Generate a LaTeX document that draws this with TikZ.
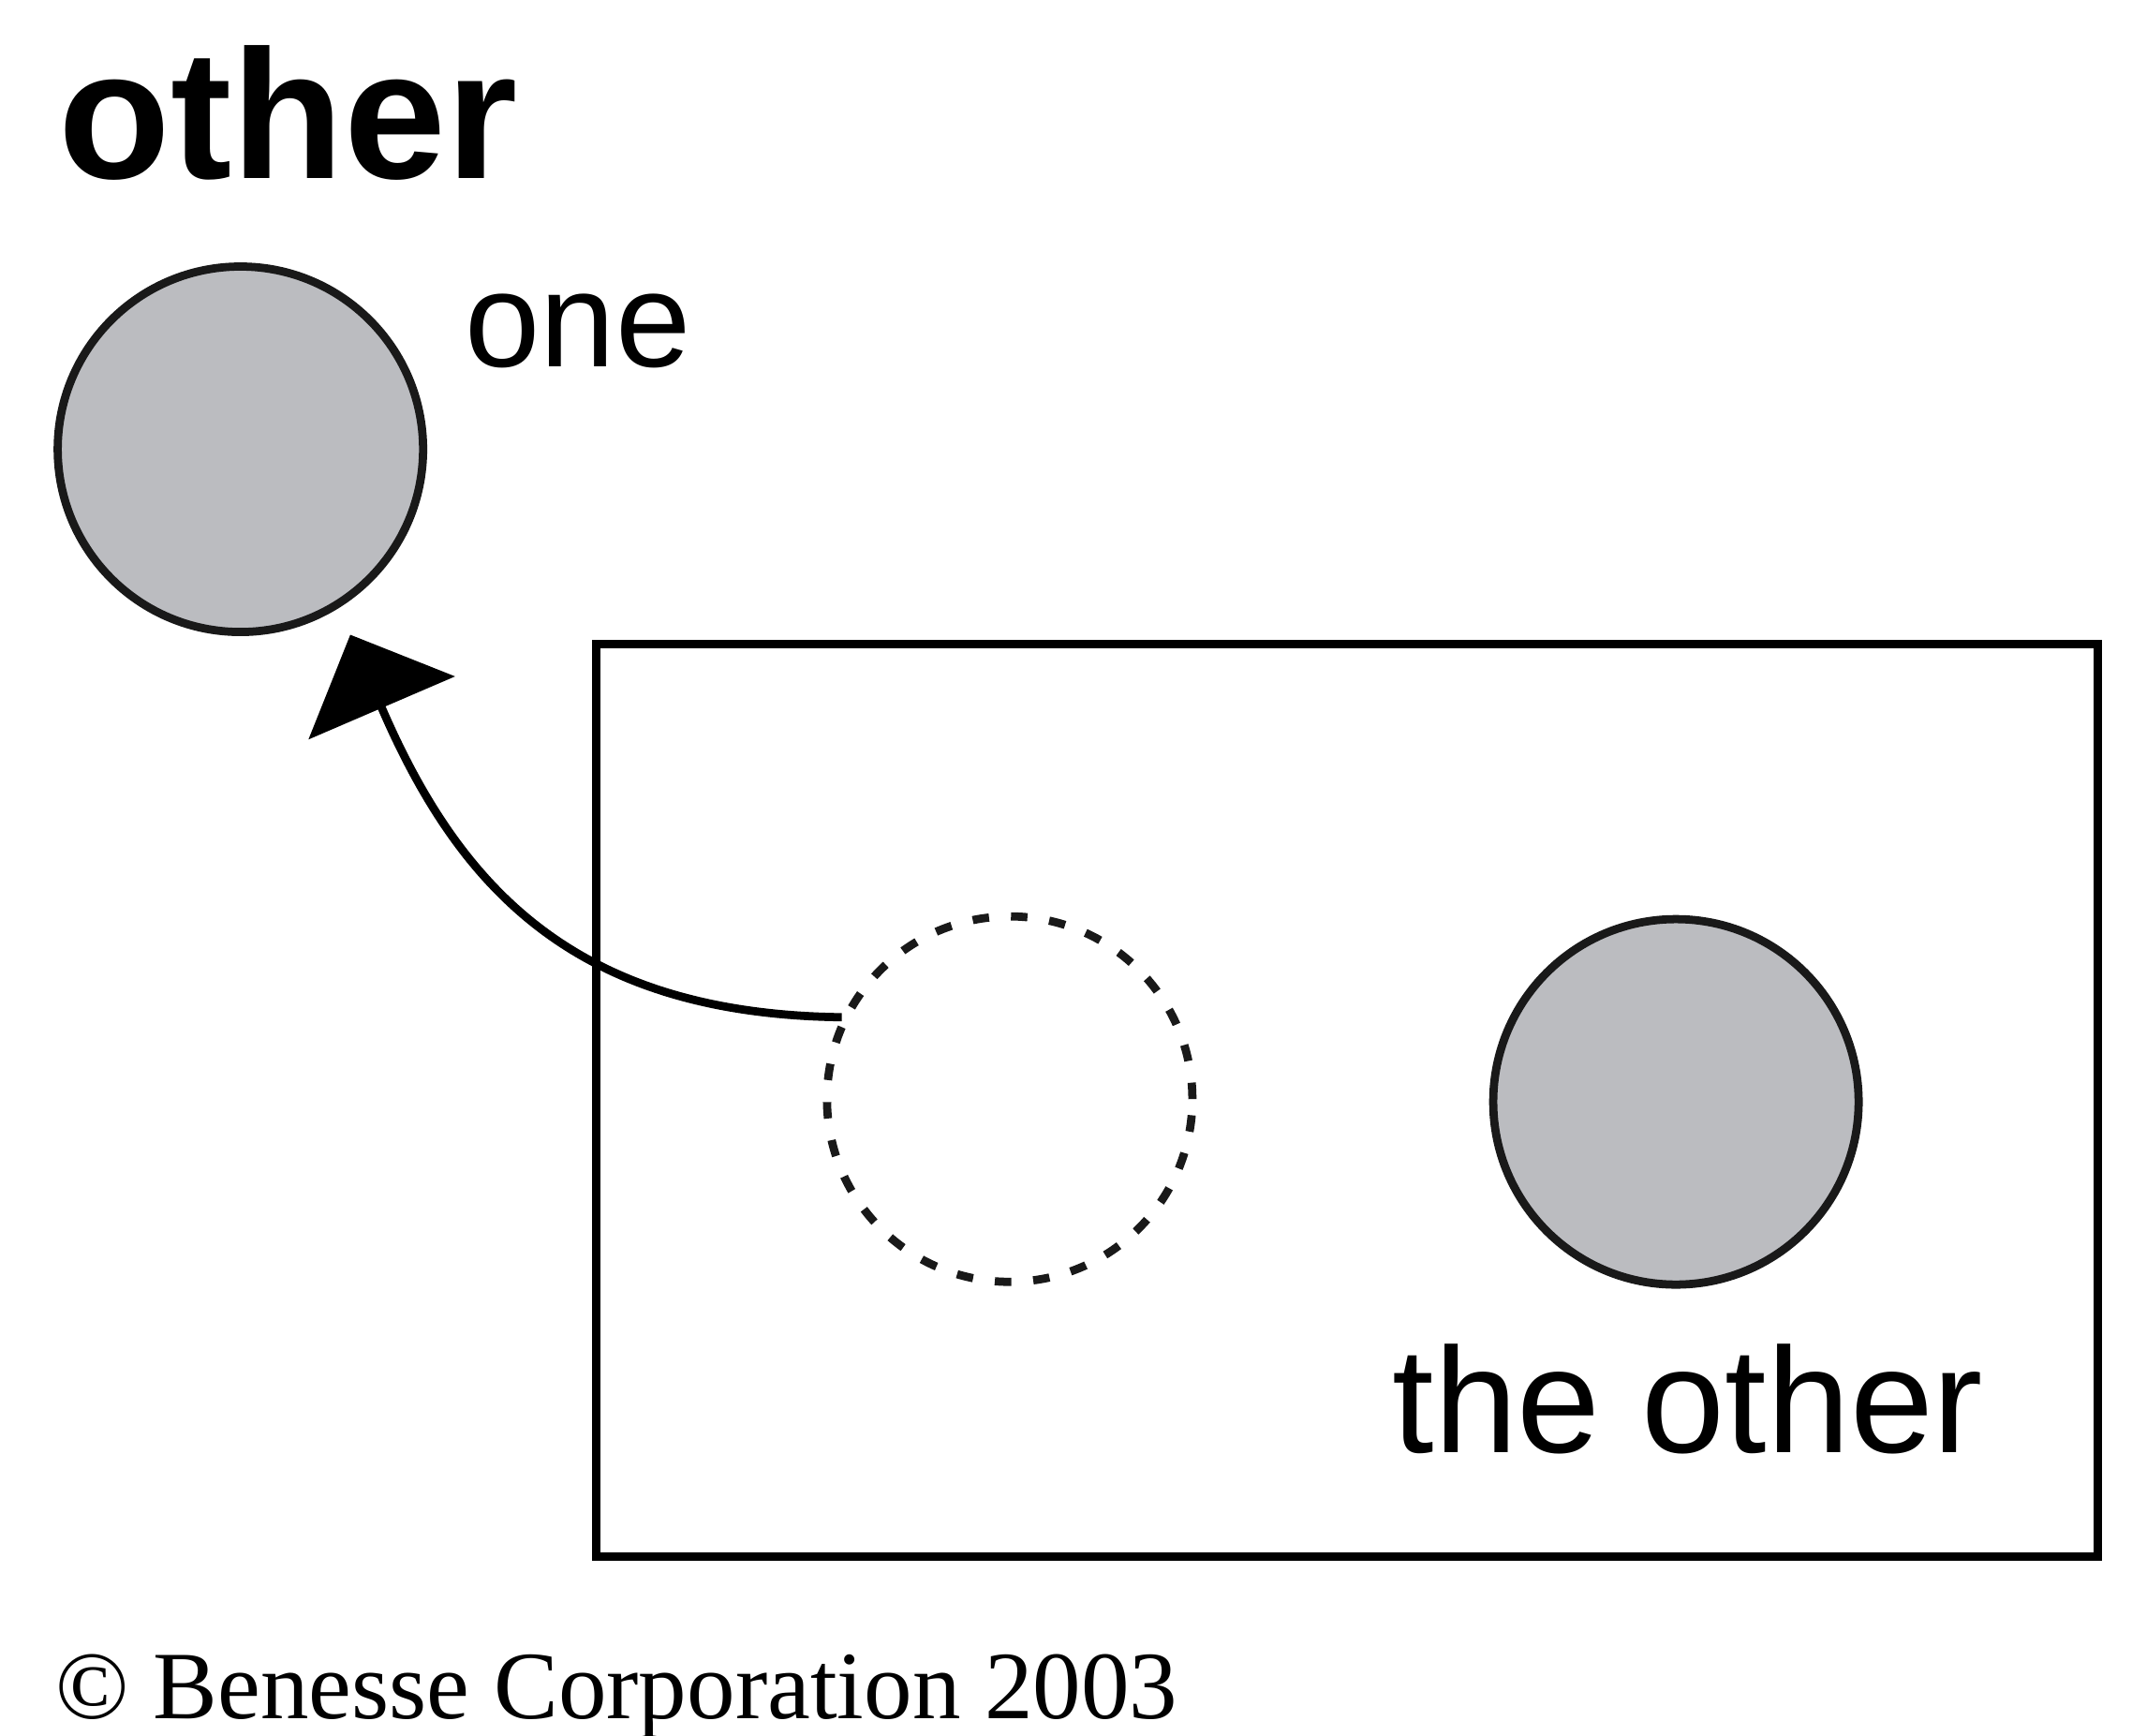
\documentclass[tikz,border=0pt]{standalone}
\usepackage{fontspec}
\setmainfont{Liberation Serif}
\newfontfamily\labelfont{Liberation Sans}
\usetikzlibrary{arrows.meta}
\definecolor{ballgray}{HTML}{BBBCC0}
\tikzset{
  ball/.style={circle, draw=black!90, line width=1.7pt, minimum size=2.66cm, inner sep=0pt},
  word/.style={anchor=base west, inner sep=0pt, font=\labelfont\fontsize{28}{28}\selectfont}
}
\begin{document}
\begin{tikzpicture}
\useasboundingbox (0,0) rectangle (15.52,12.63);
\node[anchor=base west, inner sep=0pt, font=\labelfont\bfseries\fontsize{38}{38}\selectfont] (title) at (0.42,11.33) {other};

\node[ball, fill=ballgray] (one) at (1.75,9.36) {};
\node[word] (onelbl) at (3.38,9.96) {one};

\draw[line width=1.7pt] (4.34,1.30) rectangle (15.27,7.94);
\node[ball, dash pattern=on 0.12cm off 0.16cm] (ghost) at (7.35,4.63) {};
\node[ball, fill=ballgray] (other) at (12.20,4.61) {};
\node[word, font=\labelfont\fontsize{31}{31}\selectfont] (otherlbl) at (10.13,2.06) {the other};

\coordinate (tip) at (2.55,8.01);
\draw[line width=1.7pt, -{Triangle[length=0.58cm, width=1.15cm]}]
  (ghost.154) .. controls (4.2,5.25) and (3.35,6.15) .. (tip);

\node[anchor=base west, inner sep=0pt, font=\fontsize{20}{20}\selectfont] (copy) at (0.40,0.12) {© Benesse Corporation 2003};
\end{tikzpicture}
\end{document}
